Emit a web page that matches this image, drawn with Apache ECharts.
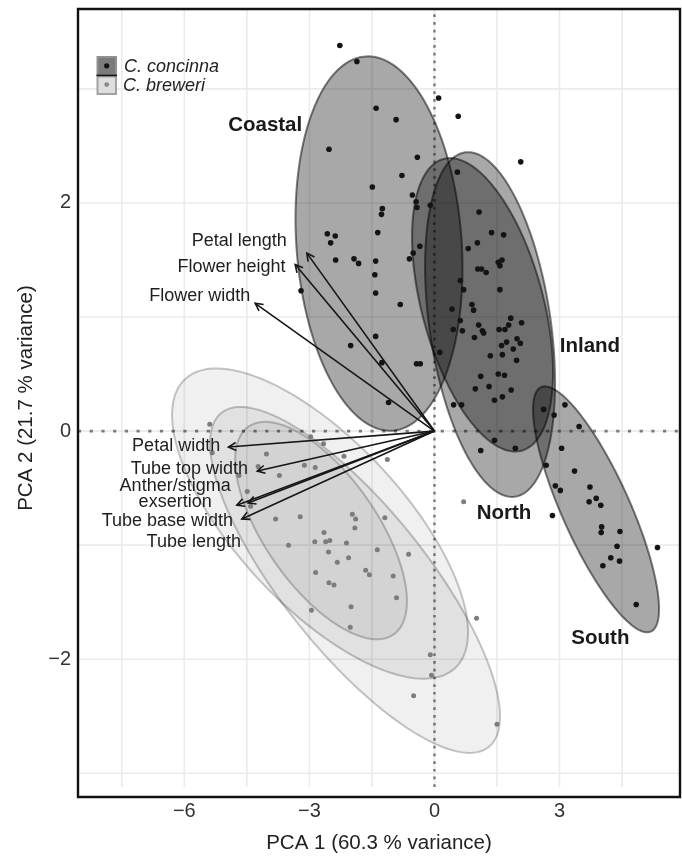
<!DOCTYPE html>
<html>
<head>
<meta charset="utf-8">
<script src="https://cdn.jsdelivr.net/npm/echarts@6/dist/echarts.min.js"></script>
<style>
  html, body { margin: 0; padding: 0; background: #fff; }
  #chart { width: 682px; height: 859px; }
</style>
</head>
<body>
<div id="chart"></div>
<script>
// PCA scores, C. concinna
const concinnaScores = [
  [-2.27,3.38],[-1.86,3.24],[0.10,2.92],[-1.40,2.83],[-0.92,2.73],[-2.53,2.47],[-0.41,2.40],[-0.78,2.24],
  [-1.49,2.14],[-0.53,2.07],[-0.44,2.01],[-0.10,1.98],[-0.42,1.96],[-1.25,1.95],[-1.27,1.90],[-2.57,1.73],
  [-2.38,1.71],[-1.36,1.74],[-2.49,1.65],[-0.35,1.62],[-0.51,1.56],[-0.60,1.51],[-2.37,1.50],[-1.93,1.51],
  [-1.82,1.47],[-1.41,1.49],[-1.43,1.37],[-3.20,1.23],[-1.41,1.21],[-0.82,1.11],[-1.41,0.83],[-2.01,0.75],
  [-1.26,0.60],[-0.43,0.59],[-0.34,0.59],[0.13,0.69],[-1.10,0.25],[0.57,2.76],[2.07,2.36],[0.55,2.27],
  [1.07,1.92],[1.37,1.74],[1.66,1.72],[1.03,1.65],[0.81,1.60],[1.04,1.42],[1.13,1.42],[1.24,1.39],
  [1.53,1.48],[1.62,1.50],[1.57,1.45],[0.62,1.32],[0.70,1.24],[1.57,1.24],[0.90,1.11],[0.42,1.07],
  [0.94,1.06],[0.62,0.97],[0.45,0.89],[0.67,0.88],[1.06,0.93],[1.15,0.88],[1.18,0.86],[0.96,0.82],
  [1.55,0.89],[1.69,0.89],[1.83,0.99],[2.09,0.95],[1.78,0.93],[1.98,0.81],[2.06,0.77],[1.73,0.78],
  [1.61,0.75],[1.89,0.72],[1.34,0.66],[1.63,0.67],[1.97,0.62],[1.11,0.48],[1.53,0.50],[1.68,0.49],
  [0.98,0.37],[1.31,0.39],[1.84,0.36],[1.63,0.30],[1.44,0.27],[0.46,0.23],[0.65,0.23],[2.62,0.19],
  [2.87,0.14],[3.13,0.23],[3.47,0.04],[1.44,-0.08],[1.11,-0.17],[1.94,-0.15],[3.05,-0.15],[2.68,-0.30],
  [3.36,-0.35],[2.90,-0.48],[3.02,-0.52],[3.73,-0.49],[3.88,-0.59],[3.71,-0.62],[3.99,-0.65],[2.83,-0.74],
  [4.01,-0.84],[4.00,-0.89],[4.45,-0.88],[4.38,-1.01],[5.35,-1.02],[4.23,-1.11],[4.44,-1.14],[4.04,-1.18],
  [4.84,-1.52]
];

// PCA scores, C. breweri
const breweriScores = [
  [-5.39,0.06],[-5.33,-0.19],[-4.03,-0.20],[-2.97,-0.05],[-2.66,-0.11],[-4.23,-0.31],[-4.69,-0.39],[-3.72,-0.39],
  [-3.12,-0.30],[-2.86,-0.32],[-2.17,-0.22],[-1.13,-0.25],[-4.49,-0.53],[-4.41,-0.66],[-3.81,-0.77],[-3.22,-0.75],
  [-1.97,-0.73],[-1.89,-0.77],[-1.91,-0.85],[-1.19,-0.76],[-2.65,-0.89],[-2.87,-0.97],[-2.61,-0.97],[-2.51,-0.96],
  [-2.11,-0.98],[-3.50,-1.00],[-2.54,-1.06],[-2.06,-1.11],[-1.37,-1.04],[-0.62,-1.08],[-2.33,-1.15],[-1.65,-1.22],
  [-1.56,-1.26],[-0.99,-1.27],[-2.85,-1.24],[-2.53,-1.33],[-2.41,-1.35],[-0.91,-1.46],[-2.00,-1.54],[-2.95,-1.57],
  [-2.02,-1.72],[1.01,-1.64],[0.70,-0.62],[-0.10,-1.96],[-0.07,-2.14],[-0.50,-2.32],[1.50,-2.57]
];

// Trait loadings: arrow tips and where each name is written
const loadingNames = ['Petal length','Flower height','Flower width','Petal width',
  'Tube top width','Anther/stigma\nexsertion','Tube base width','Tube length'];
const loadingTips = [[-3.06,1.56],[-3.34,1.46],[-4.30,1.12],[-4.94,-0.14],
  [-4.25,-0.35],[-4.74,-0.65],[-4.62,-0.77],[-4.47,-0.63]];
const loadingLabelAt = [[-3.54,1.665],[-3.57,1.435],[-4.42,1.185],[-5.14,-0.135],
  [-4.47,-0.332],[-6.22,-0.55],[-4.83,-0.785],[-4.64,-0.972]];
const loadingLabelAlign = ['right','right','right','right','right','center','right','right'];

// Group ellipses: [centre x, centre y, x half-range, y half-range, correlation]
const concinnaGroups = ['Coastal','Inland','North','South'];
const concinnaEllipses = [
  [-1.33,1.644,2.003,1.641,-0.132],
  [1.154,1.107,1.691,1.286,-0.461],
  [1.334,0.934,1.559,1.511,-0.338],
  [3.876,-0.686,1.511,1.078,-0.81]
];
const concinnaGroupLabelAt = [[-4.06,2.68],[3.73,0.74],[1.67,-0.72],[3.98,-1.82]];
const breweriEllipses = [
  [-2.744,-0.811,3.55,1.36,-0.70],
  [-1.905,-1.305,3.478,1.516,-0.79],
  [-2.72,-0.872,2.06,0.953,-0.65]
];

// Axis ticks
const xMajorTicks = [-6,-3,0,3];
const xMinorTicks = [-7.5,-4.5,-1.5,1.5,4.5];
const yMajorTicks = [-2,0,2];
const yMinorTicks = [-3,-1,1,3];
const X_MIN = -8.55, X_MAX = 5.89, Y_MIN = -3.12, Y_MAX = 3.70;

const FONT = "'Liberation Sans', Arial, Helvetica, sans-serif";
const fmtTick = v => (v < 0 ? '\u2212' + Math.abs(v) : String(v));

function ellipseRenderer(fill, stroke, width) {
  return function (params, api) {
    const cx = api.value(0), cy = api.value(1), a = api.value(2), b = api.value(3), r = api.value(4);
    const s = Math.sqrt(1 - r * r);
    const pts = [];
    const n = 200;
    for (let k = 0; k < n; k++) {
      const t = 2 * Math.PI * k / n;
      pts.push(api.coord([cx + a * Math.cos(t), cy + b * (r * Math.cos(t) + s * Math.sin(t))]));
    }
    return { type: 'polygon', shape: { points: pts }, style: { fill: fill, stroke: stroke, lineWidth: width } };
  };
}

const chart = echarts.init(document.getElementById('chart'), null, { renderer: 'canvas' });

chart.setOption({
  animation: false,
  backgroundColor: '#ffffff',
  grid: { left: 78, top: 9, width: 602, height: 788, containLabel: false },
  xAxis: {
    type: 'value', min: X_MIN, max: X_MAX,
    axisLine: { show: false }, axisTick: { show: false }, splitLine: { show: false },
    axisLabel: { customValues: xMajorTicks, formatter: fmtTick, fontSize: 20, color: '#333', margin: 14, fontFamily: FONT },
    name: 'PCA 1 (60.3 % variance)', nameLocation: 'middle', nameGap: 46,
    nameTextStyle: { fontSize: 20.5, color: '#222', fontFamily: FONT }
  },
  yAxis: {
    type: 'value', min: Y_MIN, max: Y_MAX,
    axisLine: { show: false }, axisTick: { show: false }, splitLine: { show: false },
    axisLabel: { customValues: yMajorTicks, formatter: fmtTick, fontSize: 20, color: '#333', margin: 7, fontFamily: FONT },
    name: 'PCA 2 (21.7 % variance)', nameLocation: 'middle', nameGap: 38, nameRotate: 90,
    nameTextStyle: { fontSize: 20.5, color: '#222', fontFamily: FONT }
  },
  series: [
    // panel grid
    {
      type: 'custom', silent: true, data: [[0, 0]], z: 1,
      renderItem: function (params, api) {
        const children = [];
        xMajorTicks.concat(xMinorTicks).forEach(v => {
          const p1 = api.coord([v, Y_MIN]), p2 = api.coord([v, Y_MAX]);
          children.push({ type: 'line', shape: { x1: p1[0], y1: p1[1], x2: p2[0], y2: p2[1] }, style: { stroke: '#ebebeb', lineWidth: 1.6 } });
        });
        yMajorTicks.concat(yMinorTicks).forEach(v => {
          const p1 = api.coord([X_MIN, v]), p2 = api.coord([X_MAX, v]);
          children.push({ type: 'line', shape: { x1: p1[0], y1: p1[1], x2: p2[0], y2: p2[1] }, style: { stroke: '#ebebeb', lineWidth: 1.6 } });
        });
        return { type: 'group', children: children };
      }
    },
    // dotted zero lines
    {
      type: 'custom', silent: true, data: [[0, 0]], z: 2,
      renderItem: function (params, api) {
        const h1 = api.coord([X_MIN, 0]), h2 = api.coord([X_MAX, 0]);
        const v1 = api.coord([0, Y_MIN]), v2 = api.coord([0, Y_MAX]);
        return { type: 'group', children: [
          { type: 'line', shape: { x1: h1[0], y1: h1[1], x2: h2[0], y2: h2[1] }, style: { stroke: '#7a7a7a', lineWidth: 2.6, lineDash: [3.2, 8.5] } },
          { type: 'line', shape: { x1: v1[0], y1: v1[1], x2: v2[0], y2: v2[1] }, style: { stroke: '#7a7a7a', lineWidth: 2.4, lineDash: [2.7, 5] } }
        ] };
      }
    },
    // C. breweri ellipses
    {
      type: 'custom', silent: true, z: 3, data: breweriEllipses,
      renderItem: ellipseRenderer('rgba(0,0,0,0.06)', 'rgba(0,0,0,0.22)', 2)
    },
    // C. concinna ellipses
    {
      type: 'custom', silent: true, z: 4, data: concinnaEllipses,
      renderItem: ellipseRenderer('rgba(0,0,0,0.34)', 'rgba(0,0,0,0.5)', 2)
    },
    {
      type: 'scatter', name: 'C. breweri', data: breweriScores, z: 5,
      symbol: 'circle', symbolSize: 5, itemStyle: { color: '#7c7c7c', opacity: 1 }
    },
    {
      type: 'scatter', name: 'C. concinna', data: concinnaScores, z: 6,
      symbol: 'circle', symbolSize: 5.6, itemStyle: { color: '#141414', opacity: 1 }
    },
    // loading arrows
    {
      type: 'custom', silent: true, z: 7, data: loadingTips,
      renderItem: function (params, api) {
        const o = api.coord([0, 0]);
        const p = api.coord([api.value(0), api.value(1)]);
        const ang = Math.atan2(p[1] - o[1], p[0] - o[0]);
        const L = 8.5, w = Math.PI / 6.5;
        const a1 = [p[0] - L * Math.cos(ang - w), p[1] - L * Math.sin(ang - w)];
        const a2 = [p[0] - L * Math.cos(ang + w), p[1] - L * Math.sin(ang + w)];
        return { type: 'group', children: [
          { type: 'line', shape: { x1: o[0], y1: o[1], x2: p[0], y2: p[1] }, style: { stroke: '#161616', lineWidth: 1.6 } },
          { type: 'polyline', shape: { points: [a1, p, a2] }, style: { stroke: '#161616', lineWidth: 1.6, fill: null } }
        ] };
      }
    },
    // loading names
    {
      type: 'custom', silent: true, z: 8, data: loadingLabelAt,
      renderItem: function (params, api) {
        const p = api.coord([api.value(0), api.value(1)]);
        const i = params.dataIndex;
        return { type: 'text', x: p[0], y: p[1], style: {
          text: loadingNames[i], fontSize: 18, fontFamily: FONT, fill: '#1e1e1e',
          align: loadingLabelAlign[i], verticalAlign: 'middle', lineHeight: 15.5
        } };
      }
    },
    // group names
    {
      type: 'custom', silent: true, z: 8, data: concinnaGroupLabelAt,
      renderItem: function (params, api) {
        const p = api.coord([api.value(0), api.value(1)]);
        return { type: 'text', x: p[0], y: p[1], style: {
          text: concinnaGroups[params.dataIndex], fontSize: 20.5, fontWeight: 'bold', fontFamily: FONT,
          fill: '#1a1a1a', align: 'center', verticalAlign: 'middle'
        } };
      }
    }
  ],
  graphic: [
    // legend keys
    { type: 'rect', z: 50, shape: { x: 97.5, y: 57, width: 18.5, height: 18 }, style: { fill: '#7b7b7e', stroke: '#909090', lineWidth: 2 } },
    { type: 'rect', z: 50, shape: { x: 97.5, y: 76.5, width: 18.5, height: 17.5 }, style: { fill: '#dedede', stroke: '#a2a2a2', lineWidth: 2 } },
    { type: 'line', z: 51, shape: { x1: 96.5, y1: 75.4, x2: 117, y2: 75.4 }, style: { stroke: '#111', lineWidth: 1.6 } },
    { type: 'circle', z: 51, shape: { cx: 106.7, cy: 65.8, r: 2.6 }, style: { fill: '#111' } },
    { type: 'circle', z: 51, shape: { cx: 106.7, cy: 84.6, r: 2.4 }, style: { fill: '#8a8a8a' } },
    { type: 'text', z: 51, x: 124, y: 67, style: { text: 'C. concinna', fontSize: 18, fontStyle: 'italic', fontFamily: FONT, fill: '#222', align: 'left', verticalAlign: 'middle' } },
    { type: 'text', z: 51, x: 123, y: 86, style: { text: 'C. breweri', fontSize: 18, fontStyle: 'italic', fontFamily: FONT, fill: '#222', align: 'left', verticalAlign: 'middle' } },
    // panel frame
    { type: 'rect', z: 100, silent: true, shape: { x: 78, y: 9, width: 602, height: 788 }, style: { fill: null, stroke: '#111', lineWidth: 2.4 } }
  ]
});
</script>
</body>
</html>
